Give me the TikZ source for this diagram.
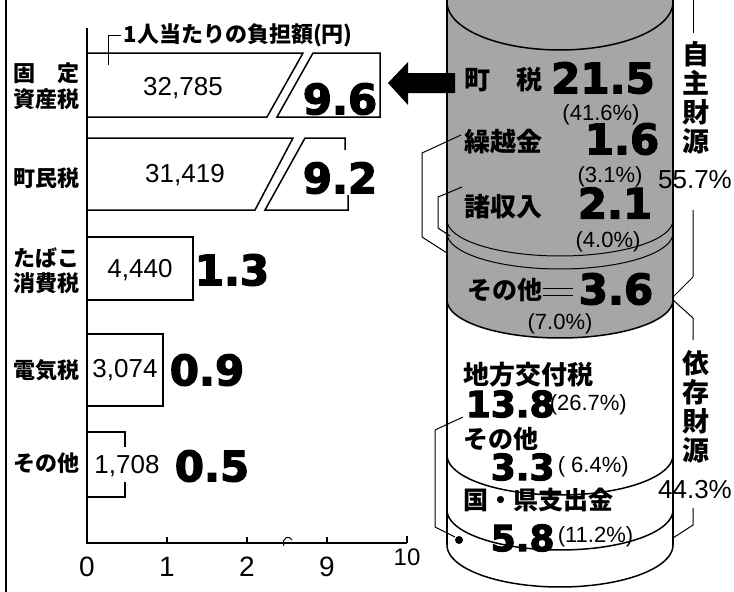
\documentclass[tikz,border=0pt]{standalone}
\usepackage{fontspec}
\setmainfont{Liberation Sans}
\newfontfamily\jp{Noto Sans CJK JP}
\newfontfamily\heavy{DejaVu Sans Bold}[FakeBold=3]
\begin{document}
\begin{tikzpicture}[x=1pt,y=-1pt,line width=1.5pt,inner sep=0pt,domain=0:180,samples=60,
  jlab/.style={font=\jp\bfseries\fontsize{22}{22}\selectfont},
  clab/.style={font=\jp\bfseries\fontsize{26}{29}\selectfont},
  val/.style={font=\fontsize{26}{26}\selectfont},
  big/.style={font=\heavy\fontsize{42}{42}\selectfont},
  mid/.style={font=\heavy\fontsize{36}{36}\selectfont},
  pct/.style={font=\fontsize{22}{22}\selectfont},
  thin/.style={line width=1pt}]
\useasboundingbox (0,0) rectangle (734,592);
\draw[line width=2pt] (6,0) -- (6,592);
\draw (87,28) -- (87,543) -- (407,543);
\foreach \t/\lab in {87/0,167/1,247/2,327/9}
  {\draw (\t,543) -- (\t,537); \node[font=\fontsize{28}{28}\selectfont] (tick\lab) at (\t,567) {\lab};}
\draw (407,543) -- (407,536);
\node[font=\fontsize{24}{24}\selectfont] (tick10) at (407,557) {10};
\draw[thin] (284,546) .. controls (281,537) and (290,535) .. (292,540);
\draw[thin] (108,65) -- (108,35) -- (121,35);
\node[anchor=west,font=\jp\bfseries\fontsize{22}{22}\selectfont] (futan) at (123,35) {1人当たりの負担額(円)};
\draw (87,53) -- (303,53) -- (267,117) -- (87,117);
\draw (313,53) -- (380,53) -- (380,117) -- (277,117) -- cycle;
\draw (87,138) -- (293,138) -- (255,210) -- (87,210);
\draw (345,150) -- (345,138) -- (305,138) -- (265,210) -- (348,210) -- (348,195);
\draw (87,237) rectangle (193,300);
\draw (87,334) rectangle (163,406);
\draw (125,447) -- (125,432) -- (87,432) (87,497) -- (125,497) -- (125,482);
\node[jlab,anchor=east] (kotei) at (80,73) {固　定};
\node[jlab,anchor=east] (shisan) at (80,99) {資産税};
\node[jlab,anchor=east] (chomin) at (80,178) {町民税};
\node[jlab,anchor=east] (tabako) at (80,258) {たばこ};
\node[jlab,anchor=east] (shohi) at (80,283) {消費税};
\node[jlab,anchor=east] (denki) at (80,370) {電気税};
\node[jlab,anchor=east] (sonotaL) at (80,463) {その他};
\node[val] (yenA) at (183,88) {32,785};
\node[val] (yenB) at (185,175) {31,419};
\node[val] (yenC) at (140,270) {4,440};
\node[val] (yenD) at (125,370) {3,074};
\node[val] (yenE) at (127,466) {1,708};
\node[big] (okuA) at (340,99) {9.6};
\node[big] (okuB) at (340,178) {9.2};
\node[big] (okuC) at (232,270) {1.3};
\node[big] (okuD) at (207,370) {0.9};
\node[big] (okuE) at (212,466) {0.5};
\fill[black!35] (673,0) -- plot ({560+113*cos(\x)},{300+38*sin(\x)}) -- (447,0) -- cycle;
\draw plot ({560+113*cos(\x)},{2+48*sin(\x)});
\draw[thin] plot ({560+113*cos(\x)},{220+36*sin(\x)});
\draw[thin] plot ({560+113*cos(\x)},{233+36*sin(\x)});
\draw plot ({560+113*cos(\x)},{300+38*sin(\x)});
\draw plot ({560+113*cos(\x)},{455+40*sin(\x)});
\draw plot ({560+113*cos(\x)},{510+40*sin(\x)});
\draw plot ({560+113*cos(\x)},{545+42*sin(\x)});
\draw (447,0) -- (447,545);
\draw (673,0) -- (673,545);
\fill (455,73) -- (408,73) -- (408,62) -- (388,83) -- (408,105) -- (408,93) -- (455,93) -- cycle;
\draw[thin] (461,135) -- (422,153) -- (422,237) -- (447,253);
\draw[thin] (462,187) -- (438,197) -- (438,228) -- (450,236);
\draw[thin] (543,288) -- (573,288) (543,295) -- (573,295);
\draw[thin] (463,417) -- (435,430) -- (435,527) -- (455,537);
\fill (459,540) circle (4pt);
\node[clab] (chozei) at (503,80) {町　税};
\node[big] (vChozei) at (603,78) {21.5};
\node[pct] (pChozei) at (601,115) {(41.6\%)};
\node[clab] (kurikoshi) at (503,142) {繰越金};
\node[big] (vKurikoshi) at (622,139) {1.6};
\node[pct] (pKurikoshi) at (610,177) {(3.1\%)};
\node[clab] (shoshu) at (503,207) {諸収入};
\node[big] (vShoshu) at (615,203) {2.1};
\node[pct] (pShoshu) at (608,242) {(4.0\%)};
\node[clab,font=\jp\bfseries\fontsize{25}{25}\selectfont] (sonotaG) at (505,290) {その他};
\node[big] (vSonotaG) at (616,289) {3.6};
\node[pct] (pSonotaG) at (560,324) {(7.0\%)};
\node[clab,anchor=west] (kofu) at (463,375) {地方交付税};
\node[mid,anchor=west] (vKofu) at (465,404) {13.8};
\node[pct,anchor=west] (pKofu) at (549,405) {(26.7\%)};
\node[clab,anchor=west,font=\jp\bfseries\fontsize{25}{25}\selectfont] (sonotaW) at (463,439) {その他};
\node[mid,anchor=west] (vSonotaW) at (490,467) {3.3};
\node[pct,anchor=west] (pSonotaW) at (557,467) {( 6.4\%)};
\node[clab,anchor=west,font=\jp\bfseries\fontsize{25}{25}\selectfont] (shishutsu) at (463,500) {国・県支出金};
\node[mid,anchor=west] (vShishutsu) at (490,538) {5.8};
\node[pct,anchor=west] (pShishutsu) at (557,537) {(11.2\%)};
\draw[thin] (693,0) -- (693,33);
\draw[thin] (693,210) -- (693,277) -- (673,297);
\draw[thin] (673,300) -- (693,318) -- (693,340);
\draw[thin] (693,508) -- (693,525) -- (673,538);
\node[align=center,font=\jp\bfseries\fontsize{27}{29}\selectfont] (jishu) at (696,98) {自\\主\\財\\源};
\node[font=\fontsize{26}{26}\selectfont] (pJishu) at (695,180) {55.7\%};
\node[align=center,font=\jp\bfseries\fontsize{27}{29}\selectfont] (izon) at (696,407) {依\\存\\財\\源};
\node[font=\fontsize{26}{26}\selectfont] (pIzon) at (695,490) {44.3\%};
\end{tikzpicture}
\end{document}
